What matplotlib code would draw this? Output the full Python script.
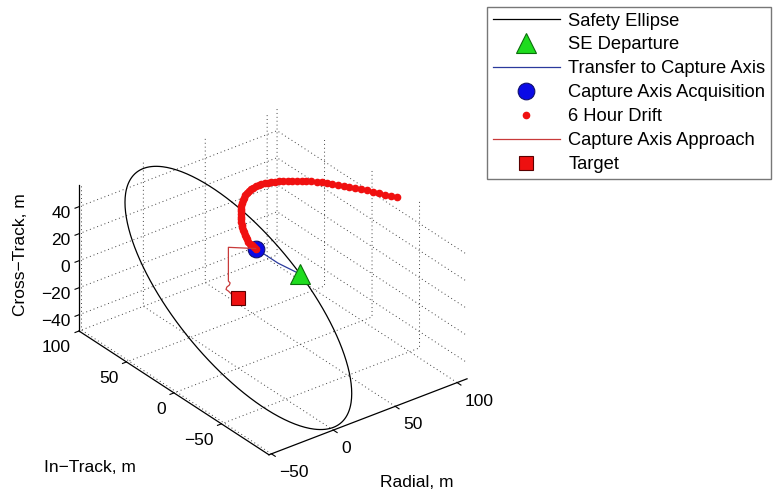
import numpy as np
import matplotlib
matplotlib.use("Agg")
import matplotlib.pyplot as plt
from mpl_toolkits.mplot3d import proj3d

plt.rcParams['font.family'] = ['Liberation Sans', 'DejaVu Sans']

# safety ellipse amplitudes (m)
ellipse_radial_amp = 50
ellipse_intrack_amp = 100
ellipse_cross_amp = 50

# SE departure point (radial, in-track, cross-track)
departure = [50, 0, 0]
# capture axis acquisition point
acquisition = [-7.5, -28, 52]
target = [0, 0, 0]

# transfer from SE to capture axis
transfer_r = [50, 21.5, -7.5]
transfer_i = [0, -14, -28]
transfer_c = [0, 24.5, 52]

# 6 hour drift (cross-track stays ~52 m)
drift_r = [-7.5, -7.3, -7.0, -6.5, -5.7, -4.8, -3.6, -2.4, -1.0, 0.5, 2.2, 3.9, 5.7, 7.7,
           9.6, 11.7, 13.9, 16.2, 18.6, 21.0, 23.5, 26.1, 28.6, 31.2, 33.7, 36.2, 38.6,
           41.0, 43.3, 45.6, 47.9, 50.2, 52.5, 54.7, 57.0, 59.3, 61.7, 64.0, 66.4, 68.7,
           71.0, 73.3, 75.6, 77.8, 80.0, 82.1, 84.3, 86.4, 88.5, 90.5, 92.6, 94.6, 96.6,
           98.3, 100.3, 102.3, 104.5]
drift_i = [-28.0, -25.7, -23.2, -20.7, -18.0, -15.2, -12.4, -9.6, -6.8, -3.9, -1.2, 1.7,
           4.5, 7.3, 10.2, 12.9, 15.7, 18.5, 21.1, 23.7, 26.2, 28.4, 30.2, 31.8, 33.1, 34.0,
           34.7, 35.1, 35.2, 35.2, 34.8, 34.3, 33.6, 32.6, 31.5, 30.1, 28.6, 26.9, 25.0,
           23.0, 20.9, 18.6, 16.1, 13.5, 10.8, 8.0, 5.0, 1.8, -1.5, -4.9, -8.4, -12.1,
           -16.0, -19.7, -23.5, -27.1, -30.6]
drift_c = [52] * len(drift_r)

# capture axis approach
approach_r = [-7.5, -20.4, -20.4, -19.0, -19.6, -21.7, -22.3, -20.4, -17.6, 0]
approach_i = [-28, -16.1, -16.1, -16.1, -16.1, -16.1, -16.1, -16.1, -16.1, 0]
approach_c = [52, 52, 27, 25.2, 23.8, 23.0, 21.5, 19.6, 16.1, 0]

xlim = (-52, 108)
ylim = (-100, 100)
zlim = (-52, 56)

W, H = 774, 493
fig = plt.figure(figsize=(W / 100, H / 100), dpi=100)
ax = fig.add_axes([0.0, 0.0, 0.7, 1.0], projection='3d')
ax.set_proj_type('ortho')
ax.view_init(elev=30, azim=-127.5)
ax.computed_zorder = False

t = np.linspace(0, 2 * np.pi, 361)
ax.plot(ellipse_radial_amp * np.cos(t), -ellipse_intrack_amp * np.sin(t),
        -ellipse_cross_amp * np.sin(t), color='k', lw=0.9, label='Safety Ellipse')
ax.plot(*[[v] for v in departure], ls='none', marker='^', ms=14, mfc='#1edc1e',
        mec='#0b6e0b', mew=0.8, label='SE Departure', zorder=6)
ax.plot(transfer_r, transfer_i, transfer_c, color='#2b3a9c', lw=0.9,
        label='Transfer to Capture Axis')
ax.plot(*[[v] for v in acquisition], ls='none', marker='o', ms=12, mfc='#0a0ae6',
        mec='#10106e', mew=0.8, label='Capture Axis Acquisition')
ax.plot(drift_r, drift_i, drift_c, ls='none', marker='o', ms=4.5, color='#f01010',
        label='6 Hour Drift')
ax.plot(approach_r, approach_i, approach_c, color='#c83a3a', lw=0.9,
        label='Capture Axis Approach')
ax.plot(*[[v] for v in target], ls='none', marker='s', ms=10, mfc='#ee1010',
        mec='#5a0000', mew=0.8, label='Target')

ax.set_xlim(*xlim)
ax.set_ylim(*ylim)
ax.set_zlim(*zlim)
ax.set_box_aspect((xlim[1] - xlim[0], ylim[1] - ylim[0], zlim[1] - zlim[0]))
ax.set_xticks([-50, 0, 50, 100])
ax.set_yticks([-50, 0, 50, 100])
ax.set_zticks([-40, -20, 0, 20, 40])

for axis in (ax.xaxis, ax.yaxis, ax.zaxis):
    axis.pane.fill = False
    axis.pane.set_edgecolor('none')
    axis._axinfo['grid'].update(color='#404040', linewidth=0.7, linestyle=(0, (1, 3)))
    axis._axinfo['tick'].update(inward_factor=0.25, outward_factor=0.0)
    axis._axinfo['axisline']['color'] = 'k'
    axis.line.set_linewidth(0.9)
ax.tick_params(labelsize=12.5, colors='k')
ax.xaxis.set_tick_params(pad=-1.5)
ax.yaxis.set_tick_params(pad=-1.5)
ax.zaxis.set_tick_params(pad=-4.5)
for lab in ax.get_xticklabels():
    lab.set_ha('left')
for lab in ax.get_yticklabels() + ax.get_zticklabels():
    lab.set_ha('right')

fig.text(0.027, 0.483, 'Cross\u2212Track, m', rotation=90, fontsize=12.5,
         ha='center', va='center')
fig.text(0.116, 0.052, 'In\u2212Track, m', fontsize=12.5, ha='center', va='center')
fig.text(0.539, 0.022, 'Radial, m', fontsize=12.5, ha='center', va='center')

leg = fig.legend(loc='upper left', bbox_to_anchor=(487 / W, 1 - 7 / H), fontsize=13.2,
                 frameon=True, fancybox=False, handlelength=3.7, labelspacing=0.38,
                 borderpad=0.3, handletextpad=0.44, borderaxespad=0, numpoints=1)
leg.get_frame().set_edgecolor('#555555')
leg.get_frame().set_linewidth(1.0)

# fit the box corners onto the reference layout
fig.canvas.draw()


def corner_px(x, y, z):
    xs, ys, _ = proj3d.proj_transform(x, y, z, ax.M)
    return np.array(ax.transData.transform((xs, ys)))


a = corner_px(xlim[0], ylim[1], zlim[0])
b = corner_px(xlim[1], ylim[0], zlim[0])
ta = np.array([79, H - 331])
tb = np.array([467, H - 379])
k = np.linalg.norm(tb - ta) / np.linalg.norm(b - a)
pos = ax.get_position()
c = np.array([(pos.x0 + pos.x1) / 2 * W, (pos.y0 + pos.y1) / 2 * H])
nc = ta - k * (a - c)
w, h = pos.width * k, pos.height * k
ax.set_position([nc[0] / W - w / 2, nc[1] / H - h / 2, w, h])

fig.savefig('out.png', dpi=100)
